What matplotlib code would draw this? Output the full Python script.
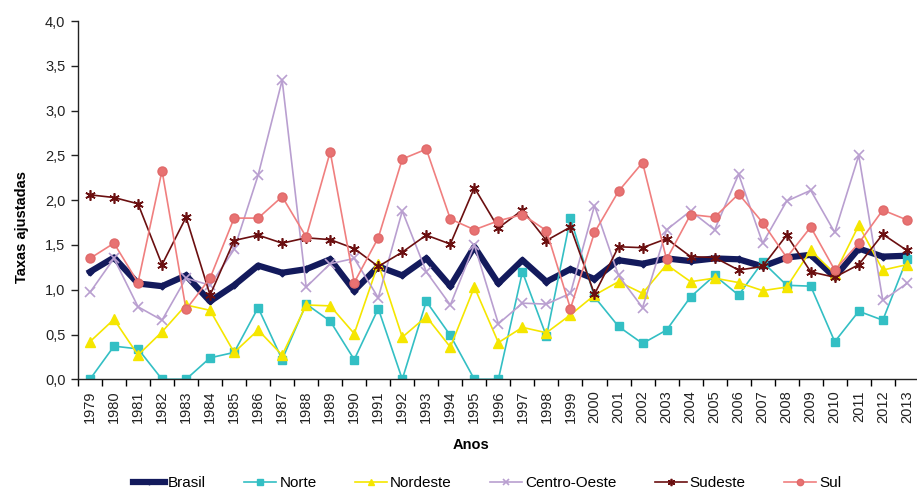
import matplotlib
matplotlib.use('Agg')
import matplotlib.pyplot as plt
from matplotlib.ticker import FuncFormatter, MultipleLocator

plt.rcParams['font.family'] = ['Liberation Sans', 'DejaVu Sans']

years = list(range(1979, 2014))

brasil = [1.20, 1.36, 1.07, 1.04, 1.16, 0.87, 1.05, 1.27, 1.19, 1.23, 1.34, 0.99,
          1.26, 1.16, 1.35, 1.04, 1.48, 1.07, 1.33, 1.09, 1.23, 1.12, 1.33,
          1.29, 1.35, 1.32, 1.35, 1.34, 1.26, 1.36, 1.39, 1.14, 1.46, 1.37, 1.38]
norte = [0.0, 0.37, 0.34, 0.0, 0.0, 0.24, 0.30, 0.80, 0.22, 0.84, 0.65, 0.22,
         0.79, 0.0, 0.87, 0.49, 0.0, 0.0, 1.20, 0.48, 1.80, 0.92, 0.59,
         0.40, 0.55, 0.92, 1.16, 0.94, 1.31, 1.05, 1.04, 0.42, 0.76, 0.66, 1.34]
nordeste = [0.42, 0.67, 0.27, 0.53, 0.83, 0.77, 0.30, 0.55, 0.27, 0.83, 0.82, 0.51,
            1.29, 0.47, 0.70, 0.36, 1.03, 0.41, 0.58, 0.52, 0.72, 0.94, 1.09,
            0.96, 1.28, 1.09, 1.13, 1.08, 0.99, 1.03, 1.44, 1.18, 1.72, 1.22, 1.28]
centro_oeste = [0.97, 1.35, 0.81, 0.66, 1.13, 1.05, 1.45, 2.28, 3.34, 1.03, 1.29, 1.35,
                0.91, 1.88, 1.20, 0.83, 1.50, 0.62, 0.85, 0.84, 0.96, 1.94, 1.16,
                0.80, 1.67, 1.88, 1.67, 2.29, 1.52, 1.99, 2.11, 1.64, 2.50, 0.88, 1.07]
sudeste = [2.06, 2.03, 1.96, 1.28, 1.81, 0.94, 1.55, 1.61, 1.52, 1.58, 1.56, 1.46,
           1.26, 1.42, 1.61, 1.51, 2.14, 1.69, 1.89, 1.55, 1.70, 0.95, 1.48,
           1.47, 1.57, 1.37, 1.36, 1.22, 1.26, 1.61, 1.20, 1.14, 1.28, 1.62, 1.44]
sul = [1.35, 1.52, 1.08, 2.33, 0.78, 1.13, 1.80, 1.80, 2.04, 1.59, 2.54, 1.08,
       1.58, 2.46, 2.57, 1.79, 1.67, 1.77, 1.84, 1.66, 0.79, 1.64, 2.10,
       2.42, 1.34, 1.84, 1.81, 2.07, 1.75, 1.36, 1.70, 1.22, 1.52, 1.89, 1.78]

fig = plt.figure(figsize=(9.17, 4.91), dpi=100)
ax = fig.add_axes([0.085, 0.2275, 0.917, 0.7295])

ax.plot(years, brasil, color='#131a5c', lw=4.5, marker='D', ms=3.5,
        mfc='#131a5c', mec='#131a5c', label='Brasil', solid_joinstyle='round')
ax.plot(years, norte, color='#33bfc4', lw=1.2, marker='s', ms=5.5,
        mfc='#33bfc4', mec='#33bfc4', label='Norte')
ax.plot(years, nordeste, color='#f5e600', lw=1.2, marker='^', ms=6.5,
        mfc='#f5e600', mec='#f5e600', label='Nordeste')
ax.plot(years, centro_oeste, color='#b99fd0', lw=1.2, marker='x', ms=6.5,
        mew=1.2, label='Centro-Oeste')
ax.plot(years, sudeste, color='#6b0f10', lw=1.2, marker=(6, 2, 0), ms=7.5,
        mew=1.2, label='Sudeste')
ax.plot(years, sul, color='#f07f7f', lw=1.2, marker='o', ms=6.5,
        mfc='#e87272', mec='#e06a6a', label='Sul')

ax.set_xlim(1978.5, 2013.5)
ax.set_ylim(0, 4.0)
ax.yaxis.set_major_locator(MultipleLocator(0.5))
ax.yaxis.set_major_formatter(FuncFormatter(lambda v, p: f'{v:.1f}'.replace('.', ',')))
ax.tick_params(axis='y', direction='out', length=5, width=1, labelsize=10.5,
               colors='#222222', pad=4)

ax.set_xticks(years)
ax.set_xticklabels([str(y) for y in years], rotation=90, fontsize=10.5, color='#222222')
ax.set_xticks([y + 0.5 for y in [1978] + years], minor=True)
ax.tick_params(axis='x', which='major', length=0, pad=8)
ax.tick_params(axis='x', which='minor', direction='out', length=5, width=1)

for s in ['top', 'right']:
    ax.spines[s].set_visible(False)
for s in ['left', 'bottom']:
    ax.spines[s].set_color('#222222')
    ax.spines[s].set_linewidth(1)

ax.set_ylabel('Taxas ajustadas', fontsize=10.5, fontweight='bold')
ax.yaxis.set_label_coords(-0.058, 0.425)
ax.set_xlabel('Anos', fontsize=10.5, fontweight='bold')
ax.xaxis.set_label_coords(0.468, -0.165)

fig.legend(loc='center', bbox_to_anchor=(487 / 917, 1 - 483 / 491), ncol=6,
           frameon=False, fontsize=11, handlelength=2.1, handletextpad=0.2,
           columnspacing=2.5, borderaxespad=0, markerscale=0.7)

fig.savefig('out.png', dpi=100)
